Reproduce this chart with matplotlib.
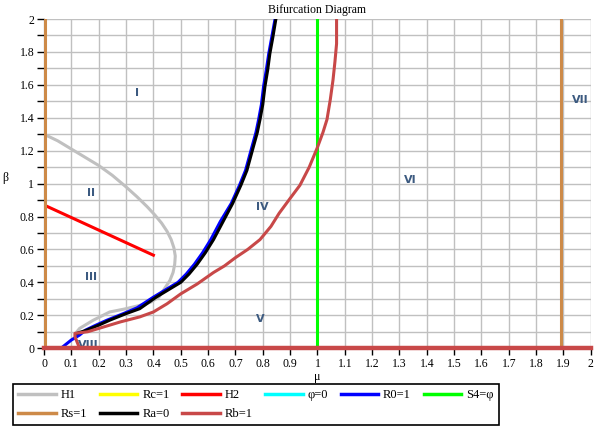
import numpy as np
import matplotlib.pyplot as plt

plt.rcParams['font.family'] = ['Liberation Serif', 'DejaVu Serif']

# --- data ---
h1_x = [0.0, 0.05, 0.1, 0.15, 0.2, 0.25, 0.3, 0.34, 0.377, 0.405, 0.43, 0.45, 0.465, 0.475, 0.48, 0.478,
        0.472, 0.46, 0.44, 0.42, 0.39, 0.35, 0.30, 0.24, 0.18, 0.13, 0.12]
h1_y = [1.30, 1.26, 1.21, 1.16, 1.11, 1.05, 0.98, 0.92, 0.86, 0.81, 0.76, 0.71, 0.66, 0.61, 0.56, 0.51,
        0.46, 0.41, 0.36, 0.31, 0.28, 0.26, 0.24, 0.22, 0.17, 0.12, 0.10]

h2_x = [0.0, 0.40]
h2_y = [0.87, 0.565]

ra_x = [0.12, 0.157, 0.20, 0.24, 0.30, 0.35, 0.41, 0.46, 0.50, 0.53, 0.56, 0.59, 0.62, 0.655, 0.69, 0.72,
        0.742, 0.765, 0.78, 0.79, 0.800, 0.808, 0.818, 0.826, 0.837, 0.848]
ra_y = [0.09, 0.11, 0.14, 0.17, 0.21, 0.24, 0.31, 0.36, 0.40, 0.45, 0.51, 0.58, 0.66, 0.77, 0.88, 0.99,
        1.08, 1.22, 1.31, 1.39, 1.48, 1.59, 1.69, 1.79, 1.89, 2.0]

r0_x = [0.07, 0.10, 0.13, 0.152, 0.19, 0.23, 0.29, 0.34, 0.40, 0.45, 0.49, 0.52, 0.55, 0.58, 0.61, 0.645,
        0.685, 0.715, 0.737, 0.76, 0.775, 0.785, 0.795, 0.803, 0.813, 0.822, 0.833, 0.845]
r0_y = [0.01, 0.05, 0.08, 0.11, 0.14, 0.17, 0.21, 0.245, 0.31, 0.36, 0.40, 0.45, 0.51, 0.58, 0.66, 0.77,
        0.88, 0.99, 1.08, 1.22, 1.31, 1.39, 1.48, 1.59, 1.69, 1.79, 1.89, 2.0]

rb_x = [0.13, 0.113, 0.113, 0.16, 0.2, 0.24, 0.28, 0.35, 0.40, 0.45, 0.50, 0.56, 0.62, 0.66, 0.70, 0.745,
        0.79, 0.83, 0.86, 0.90, 0.936, 0.97, 1.0, 1.02, 1.035, 1.047, 1.057, 1.064, 1.07, 1.07]
rb_y = [0.0, 0.07, 0.09, 0.10, 0.12, 0.14, 0.16, 0.19, 0.22, 0.27, 0.33, 0.39, 0.46, 0.50, 0.55, 0.60,
        0.66, 0.74, 0.82, 0.91, 0.99, 1.10, 1.22, 1.31, 1.39, 1.51, 1.63, 1.74, 1.85, 2.0]

zero_x = [0.0, 2.0]
zero_y = [0.0, 0.0]

rs_pos = [0.005, 1.89]
s4_pos = 1.0

regions = ['I', 'II', 'III', 'IV', 'V', 'VI', 'VII', 'VIII']
region_x = [0.34, 0.17, 0.17, 0.80, 0.79, 1.34, 1.96, 0.16]
region_y = [1.55, 0.94, 0.43, 0.86, 0.18, 1.02, 1.51, 0.02]

fig = plt.figure(figsize=(5.95, 4.32), dpi=100)
ax = fig.add_axes([0.074, 0.194, 0.919, 0.762])

lw = 2.2
ax.plot(zero_x, zero_y, color='#FFFF00', lw=lw, zorder=2)
ax.plot(zero_x, zero_y, color='#00FFFF', lw=lw, zorder=2)
ax.plot(zero_x, zero_y, color='#C84848', lw=3.2, zorder=6, clip_on=False)

l_h1, = ax.plot(h1_x, h1_y, color='#C0C0C0', lw=lw, label='H1', zorder=3)
l_rc, = ax.plot([], [], color='#FFFF00', lw=lw, label='Rc=1')
l_h2, = ax.plot(h2_x, h2_y, color='#FF0000', lw=lw, label='H2', zorder=3)
l_phi, = ax.plot([], [], color='#00FFFF', lw=lw, label='φ=0')
l_r0, = ax.plot(r0_x, r0_y, color='#0000FF', lw=lw, label='R0=1', zorder=3)
l_ra, = ax.plot(ra_x, ra_y, color='black', lw=lw, label='Ra=0', zorder=4)
l_rb, = ax.plot(rb_x, rb_y, color='#C84848', lw=lw, label='Rb=1', zorder=4)
l_s4 = ax.axvline(s4_pos, color='#00FF00', lw=lw, label='S4=φ', zorder=3)
l_rs = None
for p in rs_pos:
    l_rs = ax.axvline(p, color='#CD8A48', lw=lw, label='Rs=1', zorder=3)

for t, x, y in zip(regions, region_x, region_y):
    ax.text(x, y, t, color='#3C5A80', fontsize=8, fontweight='semibold',
            ha='center', va='center', zorder=5, family='DejaVu Sans')

ax.set_xlim(0, 2)
ax.set_ylim(0, 2)
ax.set_xticks(np.arange(0, 2.01, 0.1))
ax.set_xticklabels(['0'] + ['%g' % v for v in np.arange(0.1, 2.01, 0.1)])
ax.set_yticks(np.arange(0, 2.01, 0.2))
ax.set_yticklabels(['0'] + ['%g' % v for v in np.arange(0.2, 2.01, 0.2)])
ax.set_yticks(np.arange(0, 2.01, 0.1), minor=True)
ax.tick_params(labelsize=8.5, length=5, width=1, pad=2)
ax.tick_params(which='minor', length=5, width=1)
ax.grid(True, which='both', color='#C0C0C0', lw=1)
ax.set_axisbelow(True)
for s in ['top', 'right']:
    ax.spines[s].set_visible(False)

ax.set_title('Bifurcation Diagram', fontsize=8.5, pad=4)
ax.set_xlabel('μ', fontsize=8.5, labelpad=1)
ax.set_ylabel('β', fontsize=8.5, rotation=0, labelpad=10)

handles = [l_h1, l_rs, l_rc, l_ra, l_h2, l_rb, l_phi, l_r0, l_s4]
labels = ['H1', 'Rs=1', 'Rc=1', 'Ra=0', 'H2', 'Rb=1', 'φ=0', 'R0=1', 'S4=φ']
leg = fig.legend(handles, labels, ncol=6, loc='lower left',
                 bbox_to_anchor=(0.012, 0.002),
                 fontsize=9, handlelength=3.0, handletextpad=0.4,
                 columnspacing=1.0, labelspacing=0.55, borderpad=0.4,
                 fancybox=False, edgecolor='black', framealpha=1)
leg.get_frame().set_linewidth(1.2)
for line in leg.get_lines():
    line.set_linewidth(2.5)

plt.savefig('out.png', dpi=100)
